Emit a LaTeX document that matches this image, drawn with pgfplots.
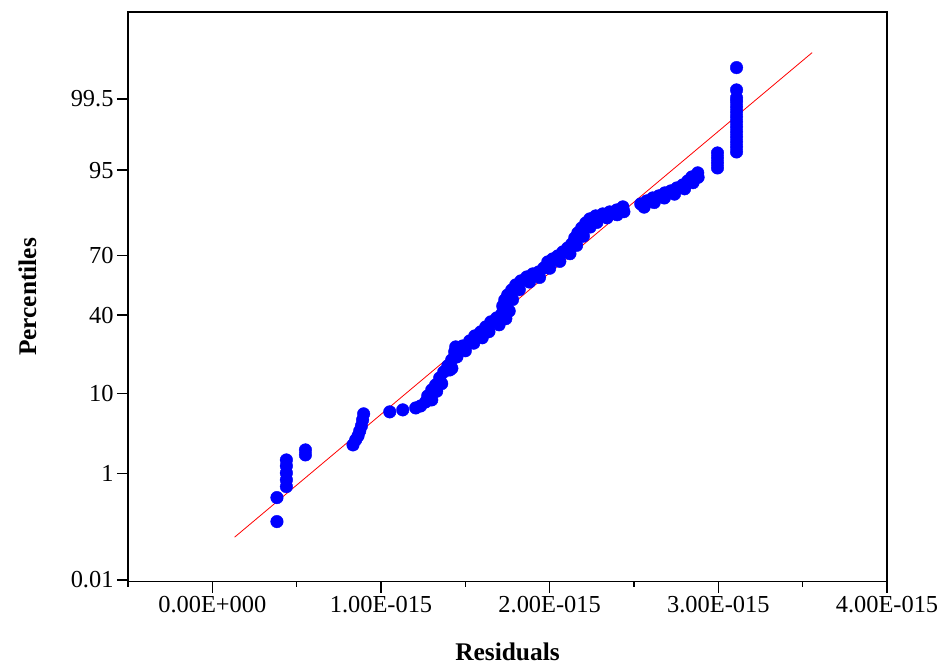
\documentclass[border=0pt]{standalone}
\usepackage{fontspec}
\setmainfont{Liberation Serif}
\usepackage{pgfplots}
\pgfplotsset{compat=1.18}
\begin{document}
\begin{tikzpicture}
\path[use as bounding box] (0,0) rectangle (945bp,668bp);
\begin{axis}[
  at={(128bp,86.5bp)}, anchor=south west,
  scale only axis, width=759bp, height=569.2bp,
  xmin=-0.5, xmax=4.0, ymin=-3.74, ymax=3.71,
  axis line style={line width=1.6bp, black},
  tick style={line width=1.4bp, black},
  tick align=outside,
  xtick pos=bottom, ytick pos=left,
  major tick length=11bp, minor tick length=5bp,
  xtick={0,1,2,3,4},
  xticklabels={0.00E+000,1.00E-015,2.00E-015,3.00E-015,4.00E-015},
  minor xtick={-0.5,0.5,1.5,2.5,3.5},
  ytick={-3.7190,-2.3263,-1.2816,-0.2533,0.5244,1.6449,2.5758},
  yticklabels={0.01,1,10,40,70,95,99.5},
  ticklabel style={font=\fontsize{24.5}{28}\selectfont},
  xlabel={Residuals},
  ylabel={Percentiles},
  every axis x label/.style={at={(axis description cs:0.5,-0.123)}, anchor=center, font=\fontsize{25.5}{30}\selectfont\bfseries},
  every axis y label/.style={at={(axis description cs:-0.1324,0.5)}, rotate=90, anchor=center, font=\fontsize{25.5}{30}\selectfont\bfseries},
  clip=false,
]
\addplot[only marks, mark=*, mark size=6.3bp, color=blue, mark options={fill=blue, draw=blue}] coordinates {
(0.383,-2.956) (0.383,-2.642)
(0.439,-2.498) (0.439,-2.410) (0.439,-2.319) (0.439,-2.227) (0.439,-2.149)
(0.552,-2.083) (0.552,-2.018)
(0.834,-1.952) (0.850,-1.887) (0.864,-1.834) (0.874,-1.769) (0.884,-1.704) (0.891,-1.625) (0.897,-1.546)
(1.052,-1.520) (1.129,-1.494) (1.206,-1.468) (1.235,-1.442) (1.265,-1.389) (1.277,-1.311)
(1.301,-1.363) (1.301,-1.232) (1.324,-1.167) (1.348,-1.075) (1.372,-0.997) (1.396,-0.918)
(1.408,-0.971) (1.419,-0.840) (1.437,-0.735) (1.443,-0.670)
(1.485,-0.657) (1.526,-0.591) (1.556,-0.526) (1.591,-0.473) (1.621,-0.408) (1.651,-0.342)
(1.686,-0.290) (1.716,-0.238) (1.722,-0.133) (1.734,-0.055) (1.751,0.011) (1.775,0.076)
(1.799,0.142) (1.829,0.194) (1.864,0.246) (1.900,0.286) (1.935,0.312) (1.965,0.364)
(1.989,0.443) (2.018,0.482) (2.048,0.521) (2.078,0.574) (2.107,0.626) (2.131,0.678)
(2.149,0.757) (2.167,0.822) (2.190,0.888) (2.214,0.953) (2.238,1.006) (2.273,1.018)
(2.273,1.045) (2.315,1.071) (2.356,1.097) (2.398,1.123) (2.434,1.163)
(2.540,1.202) (2.576,1.241) (2.611,1.280) (2.647,1.307) (2.683,1.346) (2.718,1.372)
(2.754,1.411) (2.789,1.450) (2.819,1.503) (2.843,1.555) (2.878,1.608)
(2.995,1.673) (2.995,1.738) (2.995,1.804) (2.995,1.869)
(3.108,1.882) (3.108,1.948) (3.108,2.013) (3.108,2.079) (3.108,2.144) (3.108,2.210)
(3.108,2.275) (3.108,2.340) (3.108,2.406) (3.108,2.471) (3.108,2.537) (3.108,2.589)
(3.108,2.694) (3.108,2.986)
(1.330,-1.250) (1.360,-1.150) (1.420,-0.950) (1.450,-0.800) (1.500,-0.720) (1.550,-0.620)
(1.600,-0.550) (1.640,-0.470) (1.700,-0.380) (1.740,-0.300) (1.760,-0.200) (1.780,-0.050)
(1.820,0.080) (1.880,0.180) (1.940,0.240) (2.000,0.360) (2.060,0.450) (2.120,0.550)
(2.160,0.660) (2.200,0.780) (2.240,0.900) (2.280,0.960) (2.340,1.020) (2.400,1.060)
(2.440,1.100) (2.560,1.160) (2.620,1.220) (2.680,1.280) (2.740,1.330) (2.800,1.400)
(2.850,1.480) (2.880,1.550)
};
\addplot[red, line width=0.8bp] coordinates {(0.132,-3.160) (3.556,3.182)};
\end{axis}
\end{tikzpicture}
\end{document}
